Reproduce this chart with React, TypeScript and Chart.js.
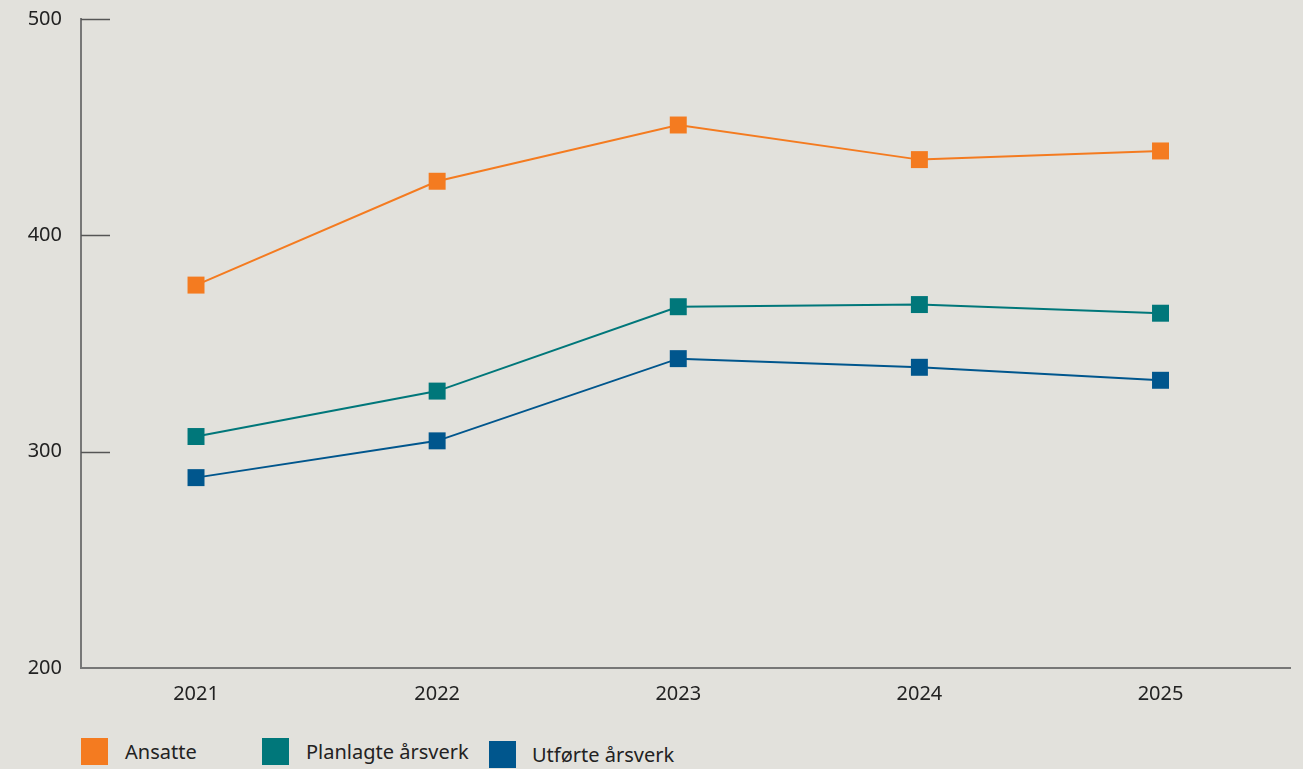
import React, { useEffect, useRef } from "react";
import { Chart, registerables } from "chart.js";

Chart.register(...registerables);

const years = ["2021", "2022", "2023", "2024", "2025"];
const ansatte = [377, 425, 451, 435, 439];
const planlagte = [307, 328, 367, 368, 364];
const utforte = [288, 305, 343, 339, 333];
const seriesNames = ["Ansatte", "Planlagte årsverk", "Utførte årsverk"];
const seriesColors = ["#F47B20", "#00777A", "#00568D"];
const yTicks = [200, 300, 400, 500];

const FONT = "'Noto Sans', 'DejaVu Sans', sans-serif";

const innerTicks = {
  id: "innerTicks",
  afterDraw(chart: any) {
    const y = chart.scales.y;
    const ctx = chart.ctx;
    const left = chart.chartArea.left;
    ctx.save();
    ctx.strokeStyle = "#555";
    ctx.lineWidth = 1.5;
    yTicks.forEach((v) => {
      if (v === 200) return;
      const py = Math.round(y.getPixelForValue(v)) + 0.5;
      ctx.beginPath();
      ctx.moveTo(left, py);
      ctx.lineTo(left + 29, py);
      ctx.stroke();
    });
    ctx.restore();
  },
};

export default function App() {
  const ref = useRef<HTMLCanvasElement>(null);
  useEffect(() => {
    document.body.style.margin = "0";
    document.body.style.background = "#E2E1DC";
    const all = [ansatte, planlagte, utforte];
    const chart = new Chart(ref.current!, {
      type: "line",
      data: {
        datasets: all.map((arr, i) => ({
          label: seriesNames[i],
          data: arr.map((v, j) => ({ x: j, y: v })),
          borderColor: seriesColors[i],
          backgroundColor: seriesColors[i],
          borderWidth: 2,
          pointStyle: "rect",
          pointRadius: 12,
          pointHoverRadius: 12,
          pointBorderWidth: 0,
          tension: 0,
        })),
      },
      options: {
        animation: false,
        responsive: false,
        layout: { padding: { top: 6, right: 13, left: 0, bottom: 0 } },
        plugins: { legend: { display: false }, tooltip: { enabled: false } },
        scales: {
          x: {
            type: "linear",
            min: -0.477,
            max: 4.537,
            grid: { display: false, drawTicks: false },
            border: { color: "#777", width: 2 },
            ticks: {
              stepSize: 1,
              includeBounds: false,
              padding: 14,
              color: "#222",
              font: { family: FONT, size: 20 },
              callback: (v: any) =>
                Number.isInteger(v) && years[v] ? years[v] : "",
            },
            afterFit: (s: any) => {
              s.height = 52;
            },
          },
          y: {
            min: 200,
            max: 500,
            grid: { display: false, drawTicks: false },
            border: { color: "#777", width: 2 },
            afterBuildTicks: (s: any) => {
              s.ticks = yTicks.map((v) => ({ value: v }));
            },
            ticks: {
              padding: 19,
              color: "#222",
              font: { family: FONT, size: 20 },
            },
            afterFit: (s: any) => {
              s.width = 81;
            },
          },
        },
      },
      plugins: [innerTicks],
    });
    return () => chart.destroy();
  }, []);

  const legendPos = [
    { box: 81, text: 125, top: 738 },
    { box: 262, text: 306, top: 738 },
    { box: 489, text: 532, top: 741 },
  ];

  return (
    <div
      style={{
        position: "relative",
        width: 1303,
        height: 769,
        background: "#E2E1DC",
        overflow: "hidden",
        fontFamily: FONT,
      }}
    >
      <canvas
        ref={ref}
        width={1303}
        height={732}
        style={{ display: "block", position: "absolute", left: 0, top: -12 }}
      />
      {seriesNames.map((n, i) => (
        <React.Fragment key={n}>
          <div
            style={{
              position: "absolute",
              left: legendPos[i].box,
              top: legendPos[i].top,
              width: 27,
              height: 27,
              background: seriesColors[i],
            }}
          />
          <div
            style={{
              position: "absolute",
              left: legendPos[i].text,
              top: legendPos[i].top,
              height: 27,
              lineHeight: "27px",
              fontSize: 20,
              color: "#222",
              whiteSpace: "nowrap",
            }}
          >
            {n}
          </div>
        </React.Fragment>
      ))}
    </div>
  );
}
